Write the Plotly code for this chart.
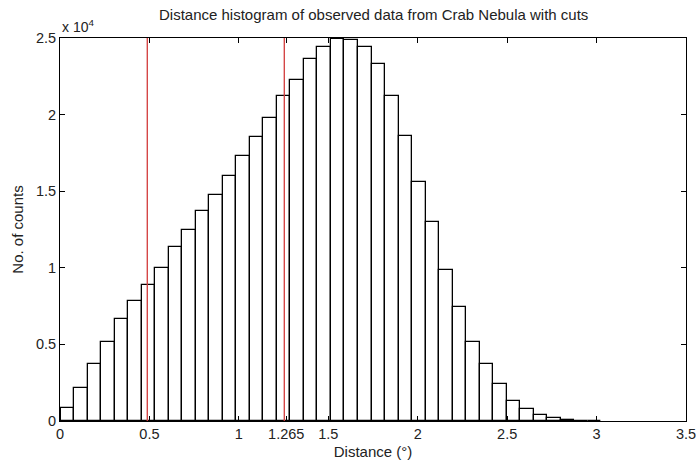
import plotly.graph_objects as go

# Histogram data (40 bins)
bin_start = 0.003
bin_width = 0.0756
counts = [850, 2150, 3700, 5180, 6660, 7830, 8910, 9990, 11340, 12490,
          13730, 14730, 15970, 17280, 18520, 19780, 21210, 22260, 23650, 24390,
          24910, 24870, 24390, 23300, 21190, 18600, 15580, 12990, 9860, 7440,
          5180, 3700, 2390, 1305, 761, 370, 174, 60, 30, 15]
cuts = [0.488, 1.254]

x_tickvals = [0, 0.5, 1, 1.265, 1.5, 2, 2.5, 3, 3.5]
x_ticktext = ["0", "0.5", "1", "1.265", "1.5", "2", "2.5", "3", "3.5"]
y_tickvals = [0, 5000, 10000, 15000, 20000, 25000]
y_ticktext = ["0", "0.5", "1", "1.5", "2", "2.5"]

centers = [bin_start + (i + 0.5) * bin_width for i in range(len(counts))]

FONT = "Liberation Sans, Arial, sans-serif"

fig = go.Figure()
fig.add_trace(go.Bar(x=centers, y=counts, width=bin_width,
                     marker=dict(color="white", line=dict(color="black", width=1.3)),
                     showlegend=False))
for c in cuts:
    fig.add_trace(go.Scatter(x=[c, c], y=[0, 25000], mode="lines",
                             line=dict(color="#d23a3a", width=1.3), showlegend=False))

fig.update_layout(
    width=696, height=467,
    margin=dict(l=60, r=10, t=38, b=46, autoexpand=False),
    paper_bgcolor="white", plot_bgcolor="white",
    font=dict(family=FONT, size=15, color="#222"),
    bargap=0,
    annotations=[
        dict(text="Distance histogram of observed data from Crab Nebula with cuts",
             xref="paper", yref="paper", x=0.5, y=1, yshift=24, xanchor="center",
             yanchor="middle", showarrow=False, font=dict(size=15, family=FONT)),
        dict(text="x 10<sup>4</sup>", xref="paper", yref="paper", x=0, y=1,
             xanchor="left", yanchor="bottom", yshift=1, showarrow=False,
             font=dict(size=14, family=FONT)),
    ],
)
fig.update_xaxes(range=[0, 3.5], tickvals=x_tickvals, ticktext=x_ticktext,
                 ticks="inside", ticklen=5, tickcolor="black", showline=True,
                 linecolor="black", linewidth=1, mirror="ticks", showgrid=False,
                 zeroline=False, tickfont=dict(size=14.5), ticklabeloverflow="allow",
                 automargin=False,
                 title=dict(text="Distance (°)", font=dict(size=15), standoff=5))
fig.update_yaxes(range=[0, 25000], tickvals=y_tickvals, ticktext=y_ticktext,
                 ticks="inside", ticklen=5, tickcolor="black", showline=True,
                 linecolor="black", linewidth=1, mirror="ticks", showgrid=False,
                 zeroline=False, tickfont=dict(size=14.5), automargin=False,
                 title=dict(text="No. of counts", font=dict(size=15), standoff=8))

fig.write_html("out.html")
